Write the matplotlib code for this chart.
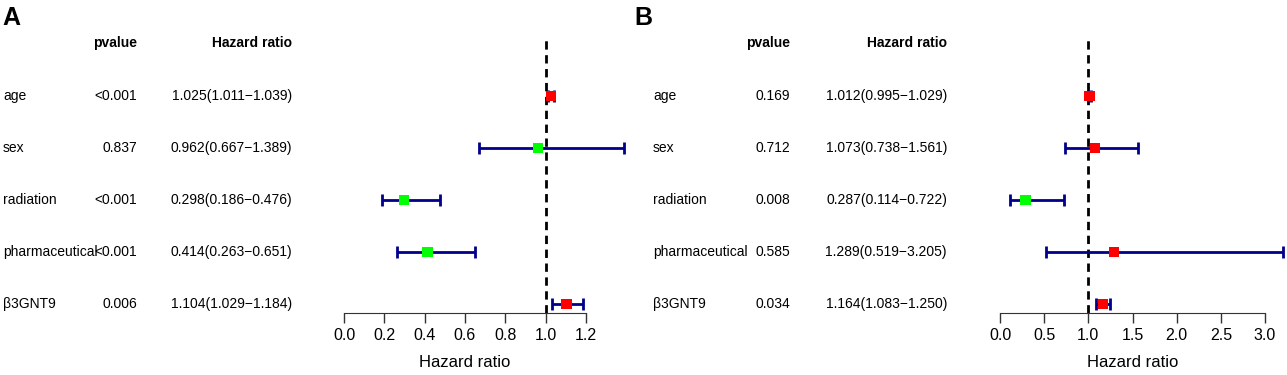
import numpy as np
import matplotlib.pyplot as plt
import matplotlib.transforms as mtransforms

plt.rcParams['font.family'] = ['Liberation Sans', 'DejaVu Sans']

# ---------------------------------------------------------------
# data
# ---------------------------------------------------------------
variables = ['age', 'sex', 'radiation', 'pharmaceutical', 'β3GNT9']

# panel A (univariate)
pval_a = ['<0.001', '0.837', '<0.001', '<0.001', '0.006']
hr_a = [1.025, 0.962, 0.298, 0.414, 1.104]
low_a = [1.011, 0.667, 0.186, 0.263, 1.029]
high_a = [1.039, 1.389, 0.476, 0.651, 1.184]

# panel B (multivariate)
pval_b = ['0.169', '0.712', '0.008', '0.585', '0.034']
hr_b = [1.012, 1.073, 0.287, 1.289, 1.164]
low_b = [0.995, 0.738, 0.114, 0.519, 1.083]
high_b = [1.029, 1.561, 0.722, 3.205, 1.250]

ticks_a = [0.0, 0.2, 0.4, 0.6, 0.8, 1.0, 1.2]
ticks_b = [0.0, 0.5, 1.0, 1.5, 2.0, 2.5, 3.0]

W, H = 1287, 375
fig = plt.figure(figsize=(W / 100, H / 100), dpi=100)


def forest(label, lab_x, name_x, p_x, hr_x, ax_left, ax_right,
           pvals, hr, low, high, ticks):
    ax = fig.add_axes([ax_left / W, (H - 313) / H,
                       (ax_right - ax_left) / W, (313 - 40) / H])
    n = len(variables)
    ys = np.arange(n, 0, -1)
    hr = np.array(hr)
    low = np.array(low)
    high = np.array(high)

    ax.set_xlim(ticks[0], ticks[-1])
    ax.set_ylim(1 - 9 / 52, 1 + 264 / 52)
    ax.axvline(1.0, color='black', linestyle=(0, (3, 2)), lw=2, zorder=1)

    ax.errorbar(hr, ys, xerr=[hr - low, high - hr], fmt='none',
                ecolor='#00008B', elinewidth=2, capsize=4, capthick=2,
                clip_on=False, zorder=2)
    cols = ['#FF0000' if h > 1 else '#00FF00' for h in hr]
    ax.scatter(hr, ys, marker='s', s=55, c=cols, linewidths=0,
               clip_on=False, zorder=3)

    for s in ['top', 'right', 'left']:
        ax.spines[s].set_visible(False)
    ax.spines['bottom'].set_bounds(ticks[0], ticks[-1])
    ax.spines['bottom'].set_color('#333333')
    ax.set_yticks([])
    ax.set_xticks(ticks)
    ax.set_xticklabels([f'{t:.1f}' for t in ticks])
    ax.tick_params(axis='x', length=7.5, width=1, color='#333333',
                   labelsize=11.5, pad=3)
    ax.set_xlabel('Hazard ratio', fontsize=12, labelpad=9)

    tr = mtransforms.blended_transform_factory(fig.transFigure, ax.transData)
    head_y = 1 + 261 / 52
    fig.text(p_x / W, head_y, 'pvalue', transform=tr, ha='right',
             va='center', fontsize=10, fontweight='bold')
    fig.text(hr_x / W, head_y, 'Hazard ratio', transform=tr, ha='right',
             va='center', fontsize=10, fontweight='bold')
    for y, name, p, h, lo, hi in zip(ys, variables, pvals, hr, low, high):
        fig.text(name_x / W, y, name, transform=tr, ha='left',
                 va='center', fontsize=10)
        fig.text(p_x / W, y, p, transform=tr, ha='right',
                 va='center', fontsize=10)
        fig.text(hr_x / W, y, f'{h:.3f}({lo:.3f}\u2212{hi:.3f})',
                 transform=tr, ha='right', va='center', fontsize=10)

    fig.text(lab_x / W, 1 - 6 / H, label, ha='left', va='top',
             fontsize=18, fontweight='bold')
    return ax


forest('A', 2, 3, 137, 292, 344, 586, pval_a, hr_a, low_a, high_a, ticks_a)
forest('B', 634, 653, 790, 947, 1000, 1265, pval_b, hr_b, low_b, high_b, ticks_b)

fig.savefig('out.png', dpi=100)
